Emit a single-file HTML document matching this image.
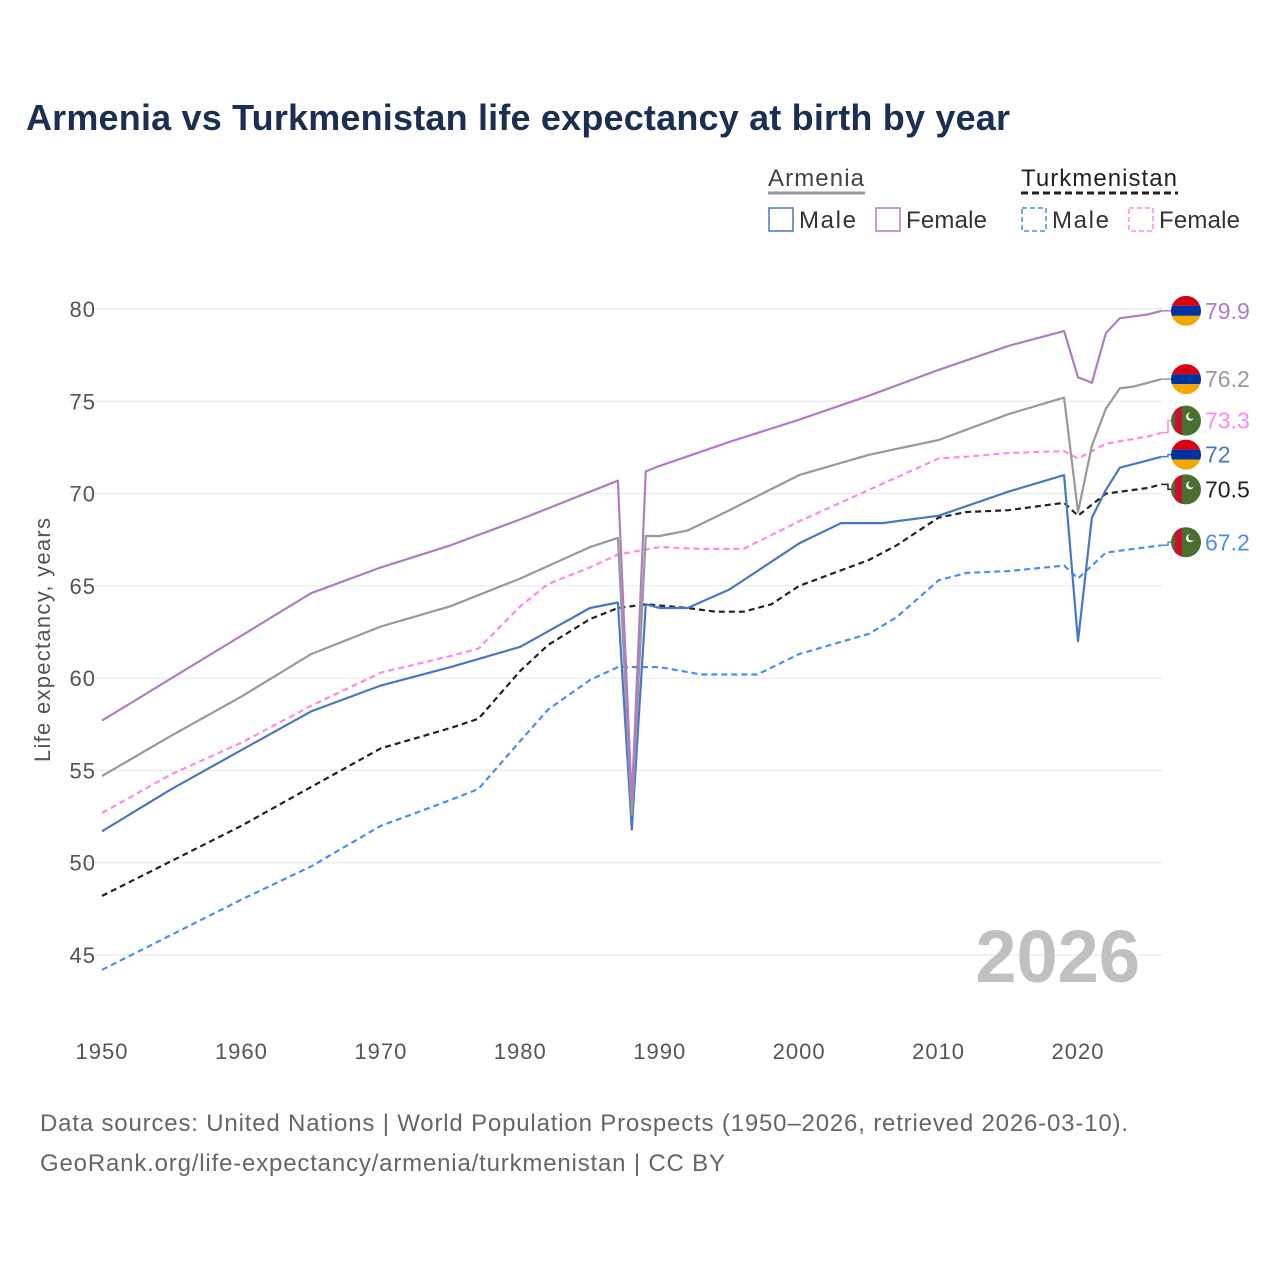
<!DOCTYPE html>
<html><head><meta charset="utf-8"><style>
body{margin:0;background:#fff;font-family:"Liberation Sans",sans-serif}
svg text{font-family:"Liberation Sans",sans-serif}
</style></head><body>
<svg id="chart" width="1280" height="1280" viewBox="0 0 1280 1280">
<rect width="1280" height="1280" fill="#fff"/>
<text x="26" y="130" font-size="36" font-weight="bold" fill="#1b2f52" textLength="984">Armenia vs Turkmenistan life expectancy at birth by year</text>
<g>
<text x="768" y="186" font-size="24" fill="#444" textLength="96">Armenia</text>
<line x1="768" y1="193" x2="865" y2="193" stroke="#999" stroke-width="3"/>
<text x="1021" y="186" font-size="24" fill="#222" textLength="156">Turkmenistan</text>
<line x1="1021" y1="193" x2="1178" y2="193" stroke="#222" stroke-width="3" stroke-dasharray="7,4"/>
<rect x="769" y="208" width="24" height="23" fill="none" stroke="#4a76c6" stroke-width="1.5"/>
<text x="799" y="228" font-size="24" fill="#333" textLength="57">Male</text>
<rect x="876" y="208" width="24" height="23" fill="none" stroke="#b07cc6" stroke-width="1.5"/>
<text x="906" y="228" font-size="24" fill="#333" textLength="81">Female</text>
<rect x="1022" y="208" width="24" height="23" fill="none" stroke="#4a8cff" stroke-width="1.5" stroke-dasharray="5,3"/>
<text x="1052" y="228" font-size="24" fill="#333" textLength="57">Male</text>
<rect x="1129" y="208" width="24" height="23" fill="none" stroke="#ff88ee" stroke-width="1.5" stroke-dasharray="5,3"/>
<text x="1159" y="228" font-size="24" fill="#333" textLength="81">Female</text>
</g>
<g id="grid"></g>
<g id="axes"></g>
<text x="1140" y="982" font-size="74" font-weight="bold" fill="#c0c0c0" text-anchor="end">2026</text>
<text transform="translate(50,640) rotate(-90)" font-size="22" fill="#555" text-anchor="middle" textLength="244">Life expectancy, years</text>
<g id="series"></g>
<g id="labels"></g>
<text x="40" y="1131" font-size="24" fill="#666" textLength="1088">Data sources: United Nations | World Population Prospects (1950–2026, retrieved 2026-03-10).</text>
<text x="40" y="1171" font-size="24" fill="#666" textLength="685">GeoRank.org/life-expectancy/armenia/turkmenistan | CC BY</text>
</svg>
<script>
const yTicks=[45,50,55,60,65,70,75,80];
const xTicks=[1950,1960,1970,1980,1990,2000,2010,2020];
const armFemYears=[1950,1955,1960,1965,1970,1975,1980,1985,1987,1988,1989,1990,1995,2000,2005,2010,2015,2019,2020,2021,2022,2023,2025,2026];
const armFemVals=[57.7,60.0,62.3,64.6,66.0,67.2,68.6,70.1,70.7,53.4,71.2,71.5,72.8,74.0,75.3,76.7,78.0,78.8,76.3,76.0,78.7,79.5,79.7,79.9];
const armTotYears=[1950,1955,1960,1965,1970,1975,1980,1985,1987,1988,1989,1990,1992,1995,2000,2005,2010,2015,2019,2020,2021,2022,2023,2024,2026];
const armTotVals=[54.7,56.9,59.0,61.3,62.8,63.9,65.4,67.1,67.6,52.6,67.7,67.7,68.0,69.1,71.0,72.1,72.9,74.3,75.2,69.0,72.6,74.6,75.7,75.8,76.2];
const armMaleYears=[1950,1955,1960,1965,1970,1975,1980,1985,1987,1988,1989,1990,1992,1995,2000,2003,2006,2010,2015,2019,2020,2021,2022,2023,2026];
const armMaleVals=[51.7,54.0,56.1,58.2,59.6,60.6,61.7,63.8,64.1,51.8,64.0,63.8,63.8,64.8,67.3,68.4,68.4,68.8,70.1,71.0,62.0,68.7,70.2,71.4,72.0];
const tkmTotYears=[1950,1955,1960,1965,1970,1975,1977,1980,1982,1985,1987,1989,1992,1994,1996,1998,2000,2005,2007,2010,2012,2015,2019,2020,2022,2025,2026];
const tkmTotVals=[48.2,50.1,52.0,54.1,56.2,57.3,57.8,60.4,61.8,63.2,63.8,64.0,63.8,63.6,63.6,64.0,65.0,66.4,67.2,68.7,69.0,69.1,69.5,68.8,70.0,70.3,70.5];
const tkmMaleYears=[1950,1955,1960,1965,1970,1975,1977,1980,1982,1985,1987,1990,1993,1997,2000,2005,2007,2010,2012,2015,2019,2020,2022,2025,2026];
const tkmMaleVals=[44.2,46.1,48.0,49.8,52.0,53.4,54.0,56.6,58.3,59.9,60.6,60.6,60.2,60.2,61.3,62.4,63.3,65.3,65.7,65.8,66.1,65.4,66.8,67.1,67.2];
const tkmFemYears=[1950,1955,1960,1965,1970,1975,1977,1980,1982,1985,1987,1990,1993,1996,2000,2005,2010,2012,2015,2019,2020,2022,2025,2026];
const tkmFemVals=[52.7,54.8,56.5,58.5,60.3,61.2,61.6,63.9,65.1,66.0,66.7,67.1,67.0,67.0,68.5,70.2,71.9,72.0,72.2,72.3,71.9,72.7,73.1,73.3];

const NS='http://www.w3.org/2000/svg';
const xS=y=>102+(y-1950)*(976/70);
const yS=v=>309+(80-v)*(646/35);
function mk(t,a,p){const e=document.createElementNS(NS,t);for(const k in a)e.setAttribute(k,a[k]);p.appendChild(e);return e;}
const grid=document.getElementById('grid'),axes=document.getElementById('axes');
yTicks.forEach(v=>{
 const l=mk('line',{x1:70,x2:1162,y1:yS(v),y2:yS(v),stroke:'#e6e6e6','stroke-width':1},grid);
 
 
 const t=mk('text',{x:96,y:yS(v)+8,'font-size':22,fill:'#555','text-anchor':'end','letter-spacing':'1'},axes);
 t.textContent=v;
 
 
});
xTicks.forEach(v=>{
 const t=mk('text',{x:xS(v),y:1059,'font-size':22,fill:'#555','text-anchor':'middle','letter-spacing':'1'},axes);
 t.textContent=v;
 
 
});
const ser=document.getElementById('series'),lab=document.getElementById('labels');
const series=[
 ['tkm-male',tkmMaleYears,tkmMaleVals,'#4a8cff','6,4','tkm'],
 ['tkm-female',tkmFemYears,tkmFemVals,'#ff88ee','6,4','tkm'],
 ['tkm-total',tkmTotYears,tkmTotVals,'#222','6,4','tkm'],
 ['arm-male',armMaleYears,armMaleVals,'#4a76c6','','arm'],
 ['arm-total',armTotYears,armTotVals,'#999','','arm'],
 ['arm-female',armFemYears,armFemVals,'#b07cc6','','arm']
];
const labelShift={'tkm-female':-12,'arm-male':-2,'tkm-total':5,'tkm-male':-3,'arm-total':0,'arm-female':0};
series.forEach(s=>{
 const [name,ys,vs,col,dash,c]=s;
 const pts=ys.map((y,i)=>xS(y).toFixed(1)+','+yS(vs[i]).toFixed(1)).join(' ');
 const p=mk('polyline',{points:pts,fill:'none',stroke:col,'stroke-width':2.2,'stroke-dasharray':dash,'stroke-linejoin':'round'},ser);
 
 
 const last=vs[vs.length-1];
 const ly=yS(last);
 const cy=ly+labelShift[name];
 const g=mk('g',{},lab);
 
 
 const cx=1186;
 mk('polyline',{points:`1162,${ly} 1168,${ly} 1168,${cy} 1172,${cy}`,fill:'none',stroke:col,'stroke-width':1.5},g);
 if(c==='arm'){
  mk('clipPath',{id:'cp-'+name},g).appendChild(document.createElementNS(NS,'circle'));
  const cc=g.querySelector('clipPath circle');cc.setAttribute('cx',cx);cc.setAttribute('cy',cy);cc.setAttribute('r',15);
  const f=mk('g',{'clip-path':'url(#cp-'+name+')'},g);
  mk('rect',{x:cx-15,y:cy-15,width:30,height:10,fill:'#d90012'},f);
  mk('rect',{x:cx-15,y:cy-5,width:30,height:10,fill:'#0033a0'},f);
  mk('rect',{x:cx-15,y:cy+5,width:30,height:10,fill:'#f2a800'},f);
 } else {
  mk('circle',{cx:cx,cy:cy,r:15,fill:'#4a7030'},g);
  mk('clipPath',{id:'cp-'+name},g).appendChild(document.createElementNS(NS,'circle'));
  const cc=g.querySelector('clipPath circle');cc.setAttribute('cx',cx);cc.setAttribute('cy',cy);cc.setAttribute('r',15);
  mk('rect',{x:cx-11,y:cy-15,width:7,height:30,fill:'#c8102e','clip-path':'url(#cp-'+name+')'},g);
  mk('circle',{cx:cx+4,cy:cy-4,r:4,fill:'#fff'},g);
  mk('circle',{cx:cx+5.5,cy:cy-5,r:3.3,fill:'#4a7030'},g);
 }
 const t=mk('text',{x:1205,y:cy+8,'font-size':23,fill:col},g);
 t.textContent=last;
});
</script>
</body></html>
